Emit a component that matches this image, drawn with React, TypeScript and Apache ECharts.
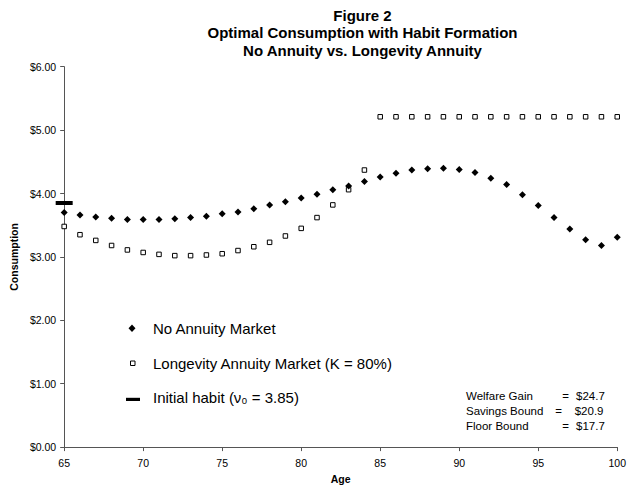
import React, { useEffect, useRef } from "react";
import * as echarts from "echarts";

const titleLines = [
  "Figure 2",
  "Optimal Consumption with Habit Formation",
  "No Annuity vs. Longevity Annuity",
];
const ages = [65, 66, 67, 68, 69, 70, 71, 72, 73, 74, 75, 76, 77, 78, 79, 80, 81, 82, 83, 84, 85, 86, 87, 88, 89, 90, 91, 92, 93, 94, 95, 96, 97, 98, 99, 100];
const noAnnuity = [3.70, 3.66, 3.63, 3.61, 3.59, 3.59, 3.59, 3.60, 3.62, 3.64, 3.68, 3.71, 3.76, 3.82, 3.87, 3.93, 3.99, 4.06, 4.12, 4.19, 4.26, 4.32, 4.37, 4.39, 4.40, 4.38, 4.33, 4.24, 4.14, 3.98, 3.81, 3.62, 3.44, 3.27, 3.18, 3.31];
const longevity = [3.48, 3.35, 3.26, 3.18, 3.11, 3.07, 3.04, 3.02, 3.02, 3.03, 3.05, 3.10, 3.16, 3.23, 3.33, 3.45, 3.62, 3.82, 4.06, 4.37, 5.21, 5.21, 5.21, 5.21, 5.21, 5.21, 5.21, 5.21, 5.21, 5.21, 5.21, 5.21, 5.21, 5.21, 5.21, 5.21];
const habitAge = 65;
const habitValue = 3.85;
const yTickValues = [0, 1, 2, 3, 4, 5, 6];
const yTickLabels = ["$0.00", "$1.00", "$2.00", "$3.00", "$4.00", "$5.00", "$6.00"];
const xTickLabels = ["65", "70", "75", "80", "85", "90", "95", "100"];
const seriesNames = ["No Annuity Market", "Longevity Annuity Market (K = 80%)", "Initial habit (\u03bd\u2080 = 3.85)"];
const statLabels = ["Welfare Gain", "Savings Bound", "Floor Bound"];
const statValues = ["$24.7", "$20.9", "$17.7"];

const FONT = "'Liberation Sans', Arial, Helvetica, sans-serif";

export default function App() {
  const ref = useRef<HTMLDivElement>(null);
  useEffect(() => {
    if (!ref.current) return;
    const chart = echarts.init(ref.current, undefined, { renderer: "svg" });
    const option: any = {
      animation: false,
      backgroundColor: "#fff",
      textStyle: { fontFamily: FONT },
      title: {
        text: titleLines.join("\n"),
        left: 362.5,
        top: 7,
        padding: 0,
        textAlign: "center",
        textStyle: { fontFamily: FONT, fontSize: 15, fontWeight: "bold", color: "#000", lineHeight: 17.3 },
      },
      grid: { left: 63.3, right: 7.3, top: 66.7, bottom: 35.7, containLabel: false },
      xAxis: {
        type: "value",
        min: 65,
        max: 100,
        interval: 5,
        name: "Age",
        nameLocation: "middle",
        nameGap: 23,
        nameTextStyle: { fontFamily: FONT, fontSize: 10.5, fontWeight: "bold", color: "#000" },
        axisLine: { show: true, lineStyle: { color: "#555", width: 1 } },
        axisTick: { show: true, length: 4, lineStyle: { color: "#555" } },
        splitLine: { show: false },
        axisLabel: {
          margin: 10,
          fontFamily: FONT,
          fontSize: 10.5,
          color: "#000",
          formatter: (v: number) => xTickLabels[Math.round((v - 65) / 5)] ?? "",
        },
      },
      yAxis: {
        type: "value",
        min: 0,
        max: 6,
        interval: 1,
        name: "Consumption",
        nameLocation: "middle",
        nameGap: 40,
        nameTextStyle: { fontFamily: FONT, fontSize: 10.5, fontWeight: "bold", color: "#000" },
        axisLine: { show: true, lineStyle: { color: "#555", width: 1 } },
        axisTick: { show: true, length: 4, lineStyle: { color: "#555" } },
        splitLine: { show: false },
        axisLabel: {
          margin: 8,
          fontFamily: FONT,
          fontSize: 10.5,
          color: "#000",
          formatter: (v: number) => yTickLabels[yTickValues.indexOf(Math.round(v))] ?? "",
        },
      },
      series: [
        {
          name: seriesNames[1],
          type: "scatter",
          clip: false,
          symbol: "rect",
          symbolSize: 4.5,
          itemStyle: { color: "#fff", borderColor: "#000", borderWidth: 1, opacity: 1 },
          data: ages.map((a, i) => [a, longevity[i]]),
          z: 2,
        },
        {
          name: seriesNames[0],
          type: "scatter",
          clip: false,
          symbol: "diamond",
          symbolSize: 7,
          itemStyle: { color: "#000", opacity: 1 },
          data: ages.map((a, i) => [a, noAnnuity[i]]),
          z: 3,
        },
        {
          name: seriesNames[2],
          type: "scatter",
          clip: false,
          symbol: "rect",
          symbolSize: [17, 4],
          itemStyle: { color: "#000", opacity: 1 },
          data: [[habitAge, habitValue]],
          z: 4,
        },
      ],
      graphic: [
        {
          type: "polygon",
          shape: { points: [[132, 324.5], [135.5, 328.2], [132, 331.9], [128.5, 328.2]] },
          style: { fill: "#000" },
        },
        {
          type: "text",
          x: 153,
          y: 328.5,
          style: { text: seriesNames[0], font: `15px ${FONT}`, fill: "#000", textVerticalAlign: "middle" },
        },
        {
          type: "rect",
          shape: { x: 130.5, y: 361, width: 4.5, height: 4.5 },
          style: { fill: "#fff", stroke: "#000", lineWidth: 1 },
        },
        {
          type: "text",
          x: 153,
          y: 363.5,
          style: { text: seriesNames[1], font: `15px ${FONT}`, fill: "#000", textVerticalAlign: "middle" },
        },
        {
          type: "rect",
          shape: { x: 126, y: 397.8, width: 14, height: 3.2 },
          style: { fill: "#000" },
        },
        {
          type: "text",
          x: 153,
          y: 397.5,
          style: { text: seriesNames[2], font: `15px ${FONT}`, fill: "#000", textVerticalAlign: "middle" },
        },
        ...statLabels.flatMap((lab, i) => [
          {
            type: "text",
            x: 466,
            y: 395.5 + i * 15.3,
            style: { text: lab, font: `11.5px ${FONT}`, fill: "#000", textVerticalAlign: "middle" },
          },
          {
            type: "text",
            x: i === 1 ? 555.3 : 562.3,
            y: 395.5 + i * 15.3,
            style: { text: "=", font: `11.5px ${FONT}`, fill: "#000", textVerticalAlign: "middle" },
          },
          {
            type: "text",
            x: i === 1 ? 574.7 : 576,
            y: 395.5 + i * 15.3,
            style: { text: statValues[i], font: `11.5px ${FONT}`, fill: "#000", textVerticalAlign: "middle" },
          },
        ]),
      ],
    };
    chart.setOption(option);
    return () => chart.dispose();
  }, []);
  return (
    <div
      ref={ref}
      style={{ position: "absolute", left: 0, top: 0, width: 629, height: 489, background: "#fff" }}
    />
  );
}
